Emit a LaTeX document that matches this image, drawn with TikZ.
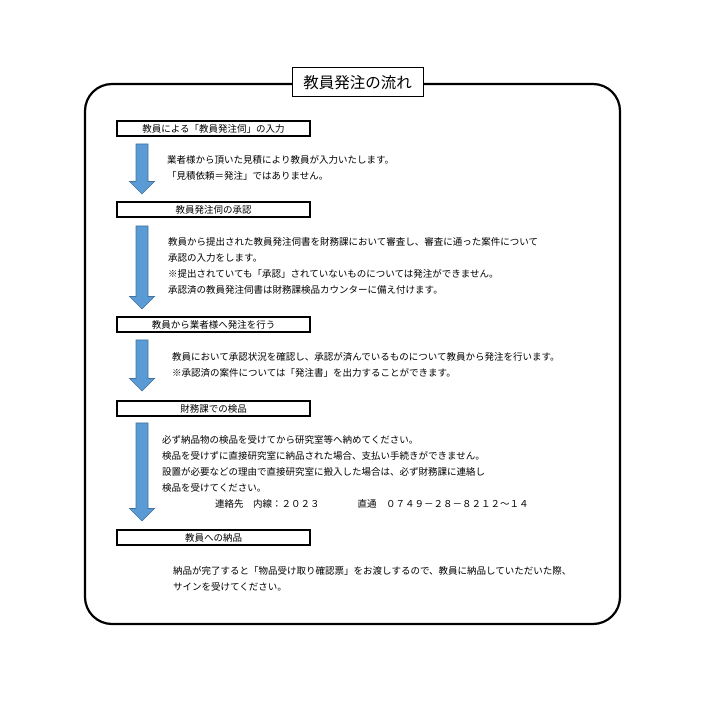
\documentclass[tikz,border=0pt]{standalone}
\usepackage{fontspec}
\setmainfont{Noto Sans CJK JP}
\usetikzlibrary{positioning,calc}

\definecolor{arrowblue}{HTML}{5B9BD5}
\definecolor{arrowedge}{HTML}{41719C}

% blue block arrow from one coordinate down to another
\newcommand\flowdown[2]{%
  \draw[flowarrow] let \p1=(#1), \p2=(#2) in
    (\x1-6pt,\y1) -- (\x1+6pt,\y1) -- (\x1+6pt,\y2+12.5pt) -- (\x1+12.5pt,\y2+12.5pt)
    -- (\x1,\y2) -- (\x1-12.5pt,\y2+12.5pt) -- (\x1-6pt,\y2+12.5pt) -- cycle;}

\begin{document}
\begin{tikzpicture}[x=1pt, y=-1pt,
  stepbox/.style={rectangle, draw=black, line width=2pt, minimum width=193pt, minimum height=15pt, inner sep=0pt, anchor=west, font=\fontsize{9.5}{11}\selectfont},
  note/.style={anchor=north west, inner sep=0pt, align=left, font=\fontsize{9.5}{16}\selectfont},
  flowarrow/.style={fill=arrowblue, draw=arrowedge, line width=0.7pt}]
  \useasboundingbox (0,0) rectangle (710,703);

  % Outer frame and title
  \draw[line width=2.2pt, rounded corners=27pt] (85,84) rectangle (620,624);
  \node (title) [rectangle, draw=black, line width=1pt, fill=white, minimum width=131pt, minimum height=29pt, inner sep=0pt, font=\fontsize{15.5}{18}\selectfont] at (357.5,82.5) {教員発注の流れ};

  % Step boxes
  \node (input) [stepbox] at (116,128.5) {教員による「教員発注伺」の入力};
  \node (approve) [stepbox] at (116,209.5) {教員発注伺の承認};
  \node (order) [stepbox] at (116,324.5) {教員から業者様へ発注を行う};
  \node (inspect) [stepbox] at (116,408.5) {財務課での検品};
  \node (deliver) [stepbox] at (116,537.5) {教員への納品};

  % Notes under each step
  \node (inputnote) [note, below right=26.7pt and 51pt of input.west] {業者様から頂いた見積により教員が入力いたします。\\「見積依頼＝発注」ではありません。};
  \node (approvenote) [note, below right=27.7pt and 52pt of approve.west] {教員から提出された教員発注伺書を財務課において審査し、審査に通った案件について\\承認の入力をします。\\※提出されていても「承認」されていないものについては発注ができません。\\承認済の教員発注伺書は財務課検品カウンターに備え付けます。};
  \node (ordernote) [note, below right=27.7pt and 56pt of order.west] {教員において承認状況を確認し、承認が済んでいるものについて教員から発注を行います。\\※承認済の案件については「発注書」を出力することができます。};
  \node (inspectnote) [note, below right=26.7pt and 46pt of inspect.west] {必ず納品物の検品を受けてから研究室等へ納めてください。\\検品を受けずに直接研究室に納品された場合、支払い手続きができません。\\設置が必要などの理由で直接研究室に搬入した場合は、必ず財務課に連絡し\\検品を受けてください。\\\hspace*{53pt}連絡先　内線：２０２３　　　　直通　０７４９－２８－８２１２～１４};
  \node (delivernote) [note, below right=28.7pt and 57pt of deliver.west] {納品が完了すると「物品受け取り確認票」をお渡しするので、教員に納品していただいた際、\\サインを受けてください。};

  % Arrows between steps
  \coordinate (a1s) at ($(input.south west)+(26,7)$);
  \coordinate (a1e) at ($(approve.north west)+(26,-7)$);
  \coordinate (a2s) at ($(approve.south west)+(26,8)$);
  \coordinate (a2e) at ($(order.north west)+(26,-7)$);
  \coordinate (a3s) at ($(order.south west)+(26,7)$);
  \coordinate (a3e) at ($(inspect.north west)+(26,-9)$);
  \coordinate (a4s) at ($(inspect.south west)+(26,6)$);
  \coordinate (a4e) at ($(deliver.north west)+(26,-8)$);
  \flowdown{a1s}{a1e}
  \flowdown{a2s}{a2e}
  \flowdown{a3s}{a3e}
  \flowdown{a4s}{a4e}
\end{tikzpicture}
\end{document}
